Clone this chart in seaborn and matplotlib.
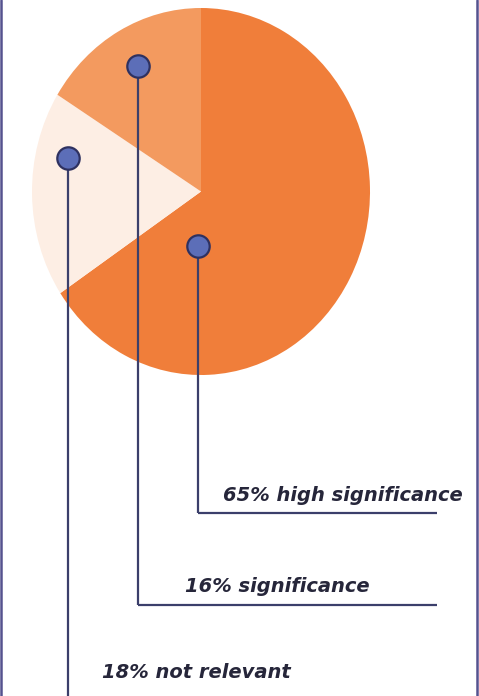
import matplotlib
matplotlib.use("Agg")
import matplotlib.pyplot as plt
import seaborn as sns

sns.set_theme(style="white")
plt.rcParams["font.family"] = ["DejaVu Sans"]

# Share of answers per rating
categories = ["high significance", "not relevant", "significance"]
shares = [65, 18, 16]
slice_colors = ["#F07E3A", "#FDEEE4", "#F39A5F"]

# Callout anchors (pixel coords) and where each leader line turns / ends
label_order = ["high significance", "significance", "not relevant"]
dot_xy = {"high significance": (198, 246), "significance": (138, 66), "not relevant": (68, 158)}
elbow_y = {"high significance": 513, "significance": 605, "not relevant": 700}
text_xy = {"high significance": (223, 501), "significance": (185, 592), "not relevant": (102, 678)}

W, H = 479, 696
fig = plt.figure(figsize=(W / 100, H / 100), dpi=100)
fig.patch.set_facecolor("white")

# Pie, slightly taller than wide
pie_ax = fig.add_axes([32 / W, (H - 375) / H, 338 / W, 367 / H])
pie_ax.pie(shares, colors=slice_colors, startangle=90, counterclock=False,
           radius=1.0, wedgeprops=dict(linewidth=0))
pie_ax.set_aspect("auto")
pie_ax.set_xlim(-1, 1)
pie_ax.set_ylim(-1, 1)
pie_ax.axis("off")

# Overlay in pixel coordinates for callouts and frame
ov = fig.add_axes([0, 0, 1, 1], facecolor="none")
ov.set_xlim(0, W)
ov.set_ylim(H, 0)
ov.axis("off")

line_c = "#3B3F6B"
for cat in label_order:
    pct = shares[categories.index(cat)]
    x0, y0 = dot_xy[cat]
    ye = elbow_y[cat]
    ov.plot([x0, x0], [y0, ye], color=line_c, lw=1.6, solid_capstyle="butt", zorder=3)
    if ye < H:
        ov.plot([x0, 437], [ye, ye], color=line_c, lw=1.6, solid_capstyle="butt", zorder=3)
    ov.scatter([x0], [y0], s=260, color="#5C6EB8", edgecolor="#2E3160",
               linewidth=1.6, zorder=4)
    tx, ty = text_xy[cat]
    ov.text(tx, ty, f"{pct}% {cat}", fontsize=14, fontweight="bold",
            fontstyle="oblique", color="#26263A", ha="left", va="baseline", zorder=5)

# Side frame lines
ov.plot([1.2, 1.2], [0, H], color="#55528F", lw=1.8)
ov.plot([477.5, 477.5], [0, H], color="#55528F", lw=1.8)

fig.savefig("out.png", dpi=100, facecolor="white")
